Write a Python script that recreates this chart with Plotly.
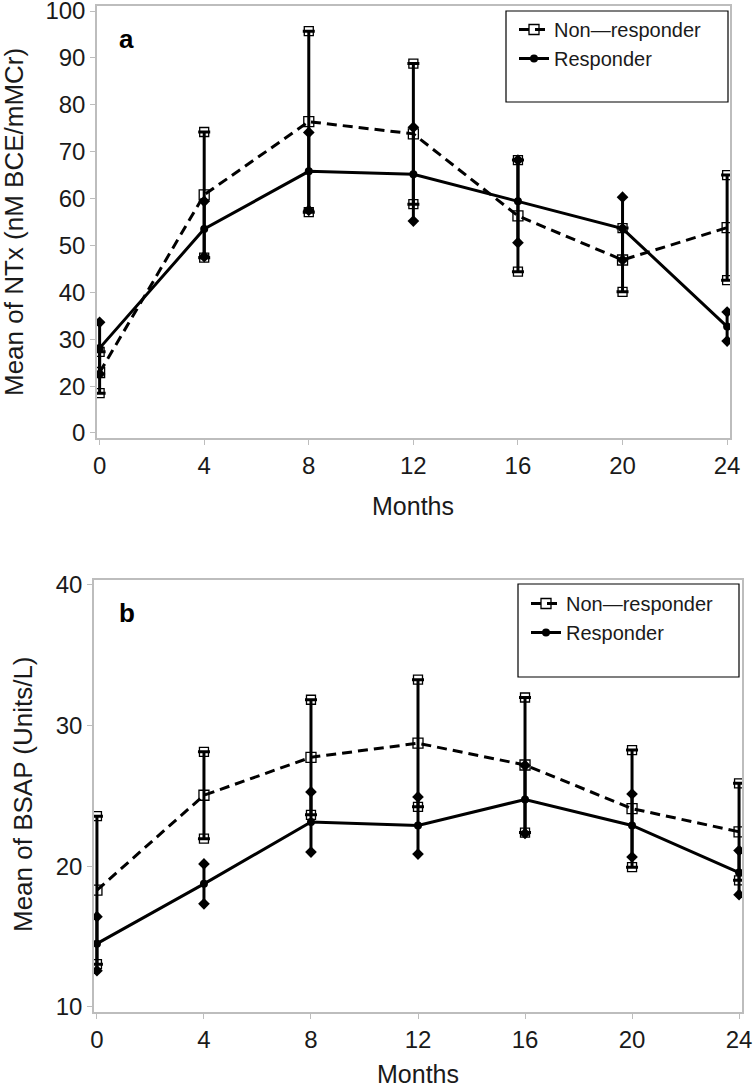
import plotly.graph_objects as go

# ---------------- data ----------------
months = [0, 4, 8, 12, 16, 20, 24]

# Panel a: Mean of NTx (values read in axis-label units)
a_nr_mean = [22.9, 60.8, 76.4, 73.8, 56.3, 46.9, 53.8]
a_nr_err = [4.4, 13.4, 19.3, 15.0, 11.9, 6.8, 11.2]
a_r_mean = [28.1, 53.5, 65.8, 65.2, 59.4, 53.6, 32.7]
a_r_err = [5.5, 5.9, 8.3, 10.0, 8.8, 6.7, 3.1]

# Panel b: Mean of BSAP
b_nr_mean = [18.3, 25.05, 27.75, 28.75, 27.2, 24.1, 22.45]
b_nr_err = [5.26, 3.09, 4.09, 4.52, 4.8, 4.16, 3.45]
b_r_mean = [14.5, 18.75, 23.15, 22.9, 24.75, 22.9, 19.55]
b_r_err = [1.92, 1.42, 2.14, 2.03, 2.42, 2.24, 1.57]

x_ticks = [0, 4, 8, 12, 16, 20, 24]
a_y_tickvals = [10, 20, 30, 40, 50, 60, 70, 80, 90, 100]
a_y_ticktext = ["0", "20", "30", "40", "50", "60", "70", "80", "90", "100"]
b_y_tickvals = [10, 20, 30, 40]

names = ["Non\u2014responder", "Responder"]

W, H = 753, 1087
FONT = "Liberation Sans, Arial, sans-serif"
TXT = "#1a1a1a"
GRID = "#bdbdbd"

fig = go.Figure()


def add_panel(xa, ya, nr_mean, nr_err, r_mean, r_err, legend):
    # error bars
    fig.add_trace(go.Scatter(x=months, y=nr_mean, mode="markers", xaxis=xa, yaxis=ya,
                             marker=dict(size=1, color="rgba(0,0,0,0)"), showlegend=False,
                             hoverinfo="skip",
                             error_y=dict(type="data", array=nr_err, color="black",
                                          thickness=3, width=6)))
    fig.add_trace(go.Scatter(x=months, y=r_mean, mode="markers", xaxis=xa, yaxis=ya,
                             marker=dict(size=1, color="rgba(0,0,0,0)"), showlegend=False,
                             hoverinfo="skip",
                             error_y=dict(type="data", array=r_err, color="black",
                                          thickness=3, width=0)))
    # end markers
    nr_hi = [m + e for m, e in zip(nr_mean, nr_err)]
    nr_lo = [m - e for m, e in zip(nr_mean, nr_err)]
    r_hi = [m + e for m, e in zip(r_mean, r_err)]
    r_lo = [m - e for m, e in zip(r_mean, r_err)]
    fig.add_trace(go.Scatter(x=months + months, y=nr_hi + nr_lo, mode="markers",
                             xaxis=xa, yaxis=ya, showlegend=False, hoverinfo="skip",
                             marker=dict(symbol="square-open", size=9, color="black",
                                         line=dict(width=1.3))))
    fig.add_trace(go.Scatter(x=months + months, y=r_hi + r_lo, mode="markers",
                             xaxis=xa, yaxis=ya, showlegend=False, hoverinfo="skip",
                             marker=dict(symbol="diamond", size=9, color="black")))
    # mean lines
    fig.add_trace(go.Scatter(x=months, y=nr_mean, mode="lines+markers", name=names[0],
                             xaxis=xa, yaxis=ya, legend=legend,
                             line=dict(color="black", width=3, dash="10px,6px"),
                             marker=dict(symbol="square-open", size=10, color="black",
                                         line=dict(width=1.3))))
    fig.add_trace(go.Scatter(x=months, y=r_mean, mode="lines+markers", name=names[1],
                             xaxis=xa, yaxis=ya, legend=legend,
                             line=dict(color="black", width=3),
                             marker=dict(symbol="circle", size=8, color="black")))


add_panel("x", "y", a_nr_mean, a_nr_err, a_r_mean, a_r_err, "legend")
add_panel("x2", "y2", b_nr_mean, b_nr_err, b_r_mean, b_r_err, "legend2")

axis_common = dict(showline=True, linecolor=GRID, linewidth=1.5, mirror=True,
                   showgrid=False, zeroline=False, ticks="outside", ticklen=5,
                   tickcolor=GRID, tickwidth=1.2, automargin=False,
                   ticklabelstandoff=0, ticklabeloverflow="allow",
                   tickfont=dict(family=FONT, size=24, color=TXT))


def px_x(p):
    return p / W


def px_y(p):
    return 1 - p / H


fig.update_layout(
    width=W, height=H,
    margin=dict(l=0, r=0, t=0, b=0, autoexpand=False),
    paper_bgcolor="white", plot_bgcolor="white",
    showlegend=True,
    xaxis=dict(domain=[px_x(97), px_x(730)], range=[-0.1, 24.11], anchor="y",
               tickvals=x_ticks, **axis_common),
    yaxis=dict(domain=[px_y(438), px_y(6)], range=[8.93, 101.07], anchor="x",
               tickvals=a_y_tickvals, ticktext=a_y_ticktext, **axis_common),
    xaxis2=dict(domain=[px_x(94), px_x(742)], range=[-0.11, 24.11], anchor="y2",
                tickvals=x_ticks, **axis_common),
    yaxis2=dict(domain=[px_y(1012), px_y(579.5)], range=[9.64, 40.39], anchor="x2",
                tickvals=b_y_tickvals, **axis_common),
    legend=dict(x=px_x(514), y=px_y(10), xanchor="left", yanchor="top",
                bgcolor="rgba(0,0,0,0)", borderwidth=0, tracegroupgap=0,
                font=dict(family=FONT, size=20, color=TXT), itemwidth=30),
    legend2=dict(x=px_x(526), y=px_y(584), xanchor="left", yanchor="top",
                 bgcolor="rgba(0,0,0,0)", borderwidth=0, tracegroupgap=0,
                 font=dict(family=FONT, size=20, color=TXT), itemwidth=30),
    hovermode=False,
)

# legend frames
fig.add_shape(type="rect", xref="paper", yref="paper",
              x0=px_x(506), x1=px_x(728), y0=px_y(102), y1=px_y(11),
              line=dict(color="black", width=1.2))
fig.add_shape(type="rect", xref="paper", yref="paper",
              x0=px_x(518), x1=px_x(739), y0=px_y(677), y1=px_y(584),
              line=dict(color="black", width=1.2))

ann = []
ann.append(dict(text="<b>a</b>", x=px_x(127), y=px_y(39)))
ann.append(dict(text="<b>b</b>", x=px_x(127), y=px_y(613)))
for a in ann:
    a.update(xref="paper", yref="paper", showarrow=False,
             font=dict(family=FONT, size=26, color="black"),
             xanchor="center", yanchor="middle")
titles = [
    dict(text="Mean of NTx (nM BCE/mMCr)", x=px_x(14), y=px_y(222), textangle=-90),
    dict(text="Mean of BSAP (Units/L)", x=px_x(23), y=px_y(794), textangle=-90),
    dict(text="Months", x=px_x(413), y=px_y(506), textangle=0),
    dict(text="Months", x=px_x(418), y=px_y(1074), textangle=0),
]
for t in titles:
    t.update(xref="paper", yref="paper", showarrow=False,
             font=dict(family=FONT, size=26 if t["textangle"] else 25, color=TXT),
             xanchor="center", yanchor="middle")
fig.update_layout(annotations=ann + titles)

fig.write_html("out.html", config={"displayModeBar": False},
               post_script="document.body.style.margin='0px';")
